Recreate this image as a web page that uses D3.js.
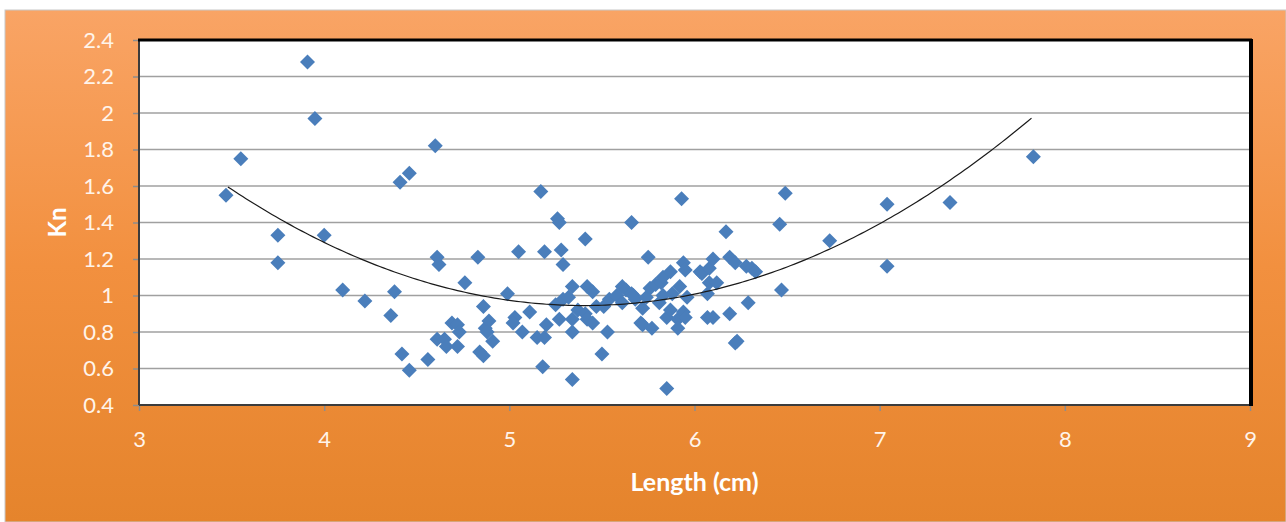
<!DOCTYPE html>
<html>
<head>
<meta charset="utf-8">
<script src="https://cdn.jsdelivr.net/npm/d3@7"></script>
<style>
  body { margin: 0; background: #fff; }
  svg text { font-family: Lato, "Open Sans", sans-serif; }
</style>
</head>
<body>
<svg id="svg" width="1286" height="522"></svg>
<script>
// data
const lengthCm = [3.47,3.55,3.75,3.75,3.91,3.95,4.00,4.10,4.22,4.36,4.38,4.41,4.46,4.42,4.46,4.56,4.60,4.61,4.62,4.61,
  4.65,4.66,4.69,4.72,4.73,4.72,4.76,4.83,4.84,4.86,4.86,4.87,4.89,4.88,4.91,4.99,5.03,5.02,5.05,5.07,
  5.11,5.15,5.19,5.20,5.18,5.17,5.19,5.26,5.27,5.28,5.29,5.25,5.27,5.29,5.32,5.34,5.34,5.34,5.34,5.37,
  5.41,5.41,5.42,5.42,5.45,5.45,5.47,5.50,5.51,5.53,5.54,5.58,5.61,5.61,5.63,5.66,5.66,5.67,5.68,5.71,
  5.72,5.72,5.74,5.75,5.76,5.77,5.79,5.81,5.82,5.83,5.83,5.85,5.85,5.87,5.87,5.88,5.91,5.91,5.92,5.93,
  5.94,5.94,5.95,5.95,5.96,6.03,6.04,6.07,6.08,6.08,6.07,6.10,6.10,6.12,6.17,6.19,6.19,6.22,6.22,6.23,
  6.28,6.29,6.31,6.33,6.46,6.47,6.49,6.73,7.04,7.04,7.38,7.83];
const kn = [1.55,1.75,1.33,1.18,2.28,1.97,1.33,1.03,0.97,0.89,1.02,1.62,1.67,0.68,0.59,0.65,1.82,1.21,1.17,0.76,
  0.76,0.72,0.85,0.84,0.80,0.72,1.07,1.21,0.69,0.67,0.94,0.82,0.86,0.80,0.75,1.01,0.88,0.85,1.24,0.80,
  0.91,0.77,0.77,0.84,0.61,1.57,1.24,1.42,1.40,1.25,1.17,0.95,0.87,0.98,0.99,1.05,0.80,0.87,0.54,0.92,
  1.31,0.90,1.05,0.87,1.02,0.85,0.94,0.68,0.94,0.80,0.98,1.00,1.05,0.96,1.03,1.40,1.01,1.00,0.98,0.85,
  0.93,0.84,0.99,1.21,1.04,0.82,1.06,0.96,1.07,1.10,1.00,0.88,0.49,1.13,0.92,1.01,0.87,0.82,1.05,1.53,
  1.18,0.91,1.14,0.88,0.99,1.13,1.12,1.01,1.15,1.07,0.88,0.88,1.20,1.07,1.35,1.21,0.90,1.18,0.74,0.75,
  1.16,0.96,1.15,1.13,1.39,1.03,1.56,1.30,1.50,1.16,1.51,1.76];

// polynomial trendline (order 2): a*x^2 + b*x + c
const trendCoef = [0.1758, -1.8997, 6.077];
const trendRange = [3.48, 7.83];

const xTicks = [3,4,5,6,7,8,9];
const yTicks = [0.4,0.6,0.8,1,1.2,1.4,1.6,1.8,2,2.2,2.4];

const svg = d3.select('#svg');
const W = 1286, H = 522;
const plot = {left:139, top:40, right:1250, bottom:405};

const x = d3.scaleLinear().domain([3,9]).range([plot.left, plot.right]);
const y = d3.scaleLinear().domain([0.4,2.4]).range([plot.bottom, plot.top]);

// background gradient
const defs = svg.append('defs');
const grad = defs.append('linearGradient').attr('id','bg').attr('x1',0).attr('y1',0).attr('x2',0).attr('y2',1);
grad.append('stop').attr('offset','0%').attr('stop-color','#F9A465');
grad.append('stop').attr('offset','50%').attr('stop-color','#F2903F');
grad.append('stop').attr('offset','100%').attr('stop-color','#E5842C');

svg.append('rect')
  .attr('x',5).attr('y',10).attr('width',W-5).attr('height',H-10)
  .attr('fill','url(#bg)')
  .attr('stroke','#C8C8C8').attr('stroke-width',1);

// plot area
svg.append('rect')
  .attr('x',plot.left).attr('y',plot.top)
  .attr('width',plot.right-plot.left).attr('height',plot.bottom-plot.top)
  .attr('fill','#fff');

// gridlines
svg.append('g').selectAll('line').data(yTicks.slice(1)).enter()
  .append('line')
  .attr('x1',plot.left).attr('x2',plot.right)
  .attr('y1',d => y(d)).attr('y2',d => y(d))
  .attr('stroke','#A0A0A0').attr('stroke-width',1.5);

// axes
const yAxis = svg.append('g')
  .attr('transform',`translate(${plot.left},0)`)
  .call(d3.axisLeft(y).tickValues(yTicks).tickSize(6).tickPadding(19).tickFormat(d3.format('')));
const xAxis = svg.append('g')
  .attr('transform',`translate(0,${plot.bottom})`)
  .call(d3.axisBottom(x).tickValues(xTicks).tickSize(6).tickPadding(20).tickFormat(d3.format('d')));

[yAxis, xAxis].forEach(ax => {
  ax.select('.domain').remove();
  ax.selectAll('.tick line').attr('stroke','#8C8C8C').attr('stroke-width',1.5);
  ax.selectAll('.tick text')
    .attr('fill','#FFF4EA')
    .style('font-size','22px');
});

// plot border (shadowed look: heavy top/right)
const bd = svg.append('g');
bd.append('line').attr('x1',plot.left).attr('x2',plot.left).attr('y1',plot.top).attr('y2',plot.bottom)
  .attr('stroke','#3C3C3C').attr('stroke-width',2);
bd.append('line').attr('x1',plot.left).attr('x2',plot.right).attr('y1',plot.bottom).attr('y2',plot.bottom)
  .attr('stroke','#3C3C3C').attr('stroke-width',2);
bd.append('line').attr('x1',plot.left-1).attr('x2',plot.right+2).attr('y1',plot.top).attr('y2',plot.top)
  .attr('stroke','#000').attr('stroke-width',3);
bd.append('line').attr('x1',plot.right+1).attr('x2',plot.right+1).attr('y1',plot.top-1).attr('y2',plot.bottom+1)
  .attr('stroke','#000').attr('stroke-width',4);

// points
const pts = lengthCm.map((v,i) => ({x:v, y:kn[i]}));
svg.append('g').selectAll('path').data(pts).enter()
  .append('path')
  .attr('d','M0,-7.5L7.5,0L0,7.5L-7.5,0Z')
  .attr('transform',d => `translate(${x(d.x)},${y(d.y)})`)
  .attr('fill','#4A7EBB');

// trendline
const trendX = d3.range(trendRange[0], trendRange[1] + 0.001, 0.02);
const line = d3.line()
  .x(d => x(d))
  .y(d => y(trendCoef[0]*d*d + trendCoef[1]*d + trendCoef[2]));
svg.append('path')
  .datum(trendX)
  .attr('d', line)
  .attr('fill','none')
  .attr('stroke','#1A1A1A')
  .attr('stroke-width',1.2);

// axis titles
svg.append('text')
  .attr('x',(plot.left+plot.right)/2).attr('y',491)
  .attr('text-anchor','middle')
  .attr('fill','#fff').attr('font-weight','bold')
  .style('font-size','25px')
  .text('Length (cm)');
svg.append('text')
  .attr('transform',`translate(66,${(plot.top+plot.bottom)/2}) rotate(-90)`)
  .attr('text-anchor','middle')
  .attr('fill','#fff').attr('font-weight','bold')
  .style('font-size','24px')
  .text('Kn');
</script>
</body>
</html>
